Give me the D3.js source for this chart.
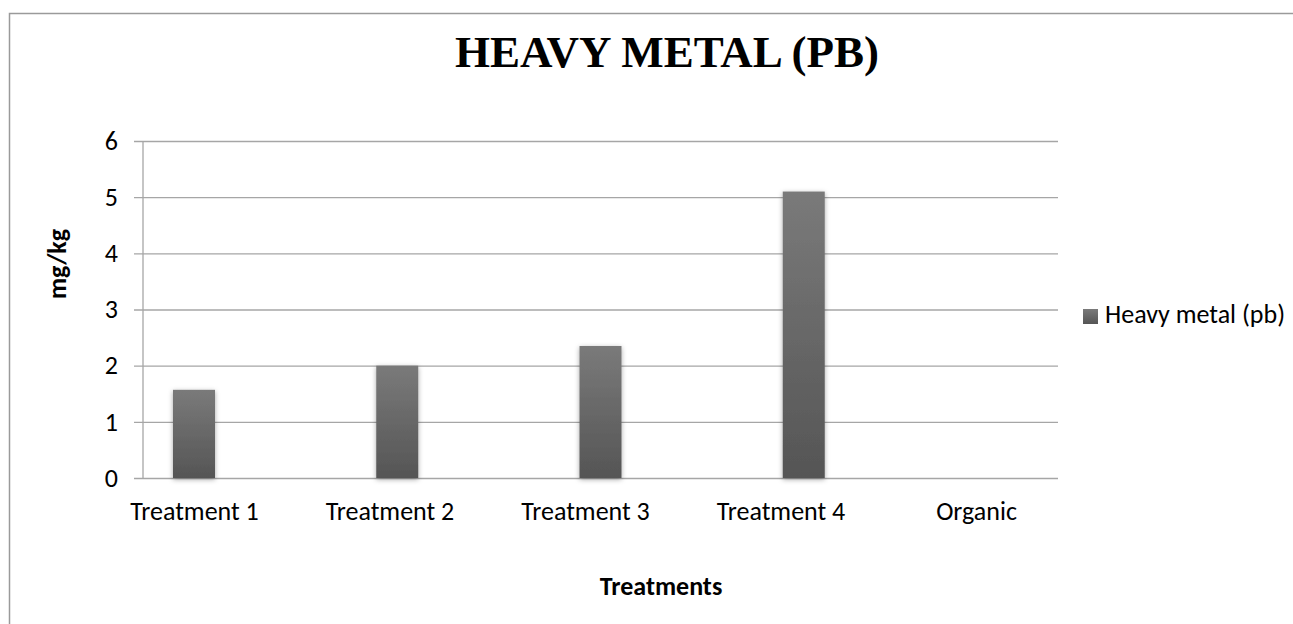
<!DOCTYPE html>
<html>
<head>
<meta charset="utf-8">
<script src="https://cdn.jsdelivr.net/npm/d3@7"></script>
<style>
  body { margin: 0; background: #fff; }
  text { font-family: Carlito, Lato, sans-serif; fill: #000; }
</style>
</head>
<body>
<div class="chart-area"></div>
<script>
// data
const categories = ["Treatment 1", "Treatment 2", "Treatment 3", "Treatment 4", "Organic"];
const values = [1.57, 2.0, 2.35, 5.1, 0];
const yTicks = [0, 1, 2, 3, 4, 5, 6];
const seriesName = "Heavy metal (pb)";

let outerWidth = 1293, outerHeight = 624;
let svg = d3.select('.chart-area').append('svg')
    .attr('width', outerWidth)
    .attr('height', outerHeight);

// chart frame
svg.append("rect")
    .attr("x", 9.5).attr("y", 13.5)
    .attr("width", 1400).attr("height", 700)
    .attr("fill", "none")
    .attr("stroke", "#9a9a9a")
    .attr("stroke-width", 1.5);

let plot = {left: 143, right: 1058, top: 141, bottom: 478};

let yScale = d3.scaleLinear().domain([0, 6]).range([plot.bottom, plot.top]);

// bar centres and label centres sit a bit apart in the original
let xBar = d3.scalePoint().domain(categories).range([194, 1007]);
let xLab = d3.scalePoint().domain(categories).range([194, 976]);
let barW = 42;

// gradient + shadow for bars
let defs = svg.append("defs");
let grad = defs.append("linearGradient").attr("id", "barGrad")
    .attr("x1", 0).attr("y1", 0).attr("x2", 0).attr("y2", 1);
grad.append("stop").attr("offset", "0%").attr("stop-color", "#7a7a7a");
grad.append("stop").attr("offset", "100%").attr("stop-color", "#555555");
let f = defs.append("filter").attr("id", "shadow")
    .attr("x", "-30%").attr("y", "-10%").attr("width", "160%").attr("height", "120%");
f.append("feDropShadow").attr("dx", 0).attr("dy", 1.5)
    .attr("stdDeviation", 2.5).attr("flood-color", "#000").attr("flood-opacity", 0.35);

// gridlines + y ticks
let yAxis = d3.axisLeft(yScale).tickValues(yTicks).tickFormat(d3.format("d"))
    .tickSize(plot.right - plot.left + 9);
let yaxis = svg.append("g")
    .attr("transform", `translate(${plot.right},0)`)
    .call(yAxis);
yaxis.select(".domain").remove();
yaxis.selectAll(".tick line").attr("stroke", "#a6a6a6").attr("stroke-width", 1.3);
yaxis.selectAll(".tick text")
    .attr("x", -(plot.right - plot.left) - 25)
    .attr("font-size", 26)
    .attr("font-family", "Carlito, Lato, sans-serif")
    .attr("fill", "#000");

// vertical axis line
svg.append("line")
    .attr("x1", plot.left).attr("x2", plot.left)
    .attr("y1", yScale(6)).attr("y2", yScale(0))
    .attr("stroke", "#a6a6a6").attr("stroke-width", 1.3);

// bars
svg.selectAll("rect.bar")
    .data(values)
    .enter()
    .append("rect")
    .attr("class", "bar")
    .attr("x", (d, i) => xBar(categories[i]) - barW / 2)
    .attr("y", d => yScale(d))
    .attr("width", barW)
    .attr("height", d => yScale(0) - yScale(d))
    .attr("fill", "url(#barGrad)")
    .attr("filter", d => d > 0 ? "url(#shadow)" : null);

// x labels
let xAxis = d3.axisBottom(xLab).tickSize(0).tickPadding(24);
let xaxis = svg.append("g")
    .attr("transform", `translate(0,${plot.bottom})`)
    .call(xAxis);
xaxis.select(".domain").remove();
xaxis.selectAll(".tick text")
    .attr("font-size", 26)
    .attr("font-family", "Carlito, Lato, sans-serif")
    .attr("fill", "#000");

// title
svg.append("text")
    .attr("x", 667).attr("y", 67)
    .attr("text-anchor", "middle")
    .attr("font-weight", "bold")
    .attr("font-size", 45)
    .style("font-family", "'Liberation Serif', 'Times New Roman', serif")
    .text("HEAVY METAL (PB)");

// axis titles
svg.append("text")
    .attr("transform", "translate(66,264) rotate(-90)")
    .attr("text-anchor", "middle")
    .attr("font-weight", "bold")
    .attr("font-size", 26)
    .text("mg/kg");

svg.append("text")
    .attr("x", 661).attr("y", 595)
    .attr("text-anchor", "middle")
    .attr("font-weight", "bold")
    .attr("font-size", 26)
    .text("Treatments");

// legend
let legend = svg.append("g").attr("transform", "translate(1083,309)");
legend.append("rect")
    .attr("width", 15).attr("height", 15)
    .attr("fill", "url(#barGrad)");
legend.append("text")
    .attr("x", 22).attr("y", 14)
    .attr("font-size", 26)
    .text(seriesName);
</script>
</body>
</html>
